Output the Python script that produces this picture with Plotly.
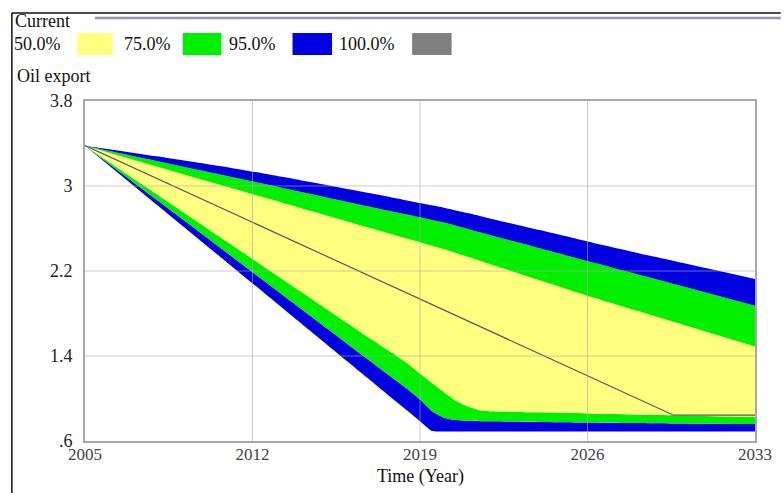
import plotly.graph_objects as go

# Oil export sensitivity run: confidence bands around the current run
years = [2005, 2008, 2011, 2014, 2017, 2018, 2018.5, 2019, 2019.5, 2020,
         2020.5, 2021, 2021.5, 2022, 2024, 2026, 2028, 2030, 2033]

hi95 = [3.38, 3.28, 3.175, 3.055, 2.93, 2.885, 2.862, 2.84, 2.818, 2.796,
        2.77, 2.745, 2.718, 2.69, 2.585, 2.478, 2.375, 2.275, 2.125]
hi75 = [3.38, 3.236, 3.092, 2.947, 2.801, 2.753, 2.729, 2.705, 2.68, 2.656,
        2.626, 2.596, 2.565, 2.535, 2.414, 2.293, 2.173, 2.053, 1.872]
hi50 = [3.38, 3.184, 2.988, 2.794, 2.600, 2.535, 2.503, 2.47, 2.438, 2.406,
        2.37, 2.333, 2.297, 2.26, 2.114, 1.968, 1.83, 1.694, 1.489]
lo50 = [3.38, 2.923, 2.466, 2.009, 1.552, 1.405, 1.325, 1.235, 1.145, 1.06,
        0.98, 0.925, 0.89, 0.88, 0.87, 0.86, 0.85, 0.84, 0.825]
lo75 = [3.38, 2.87, 2.36, 1.85, 1.34, 1.17, 1.085, 0.99, 0.88, 0.82,
        0.797, 0.79, 0.787, 0.785, 0.78, 0.775, 0.77, 0.765, 0.76]
lo95 = [3.38, 2.824, 2.269, 1.713, 1.158, 0.972, 0.88, 0.787, 0.695, 0.69,
        0.69, 0.69, 0.69, 0.69, 0.69, 0.69, 0.69, 0.69, 0.69]

current_years = [2005, 2029.6, 2033]
current_values = [3.38, 0.843, 0.843]

legend_labels = ["50.0%", "75.0%", "95.0%", "100.0%"]
x_ticks = [2005, 2012, 2019, 2026, 2033]
y_ticks = [0.6, 1.4, 2.2, 3.0, 3.8]
y_tick_text = [".6", "1.4", "2.2", "3", "3.8"]

YELLOW = "#FFFF80"
GREEN = "#00F000"
BLUE = "#0000E0"
GRAY = "#808080"
FONT = "Liberation Serif"

W, H = 784, 493
L, R, T, B = 85, 763, 101, 441


def px(x):
    return (x - L) / (R - L)


def py(y):
    return (B - y) / (B - T)


fig = go.Figure()

bounds = [
    (lo95, None, None),
    (lo75, "tonexty", BLUE),
    (lo50, "tonexty", GREEN),
    (hi50, "tonexty", YELLOW),
    (hi75, "tonexty", GREEN),
    (hi95, "tonexty", BLUE),
]
for vals, fill, color in bounds:
    fig.add_trace(go.Scatter(
        x=years, y=vals, mode="lines",
        line=dict(width=0, color=color or BLUE, shape="spline", smoothing=0.4),
        fill=fill, fillcolor=color,
        hoverinfo="skip",
    ))

fig.add_trace(go.Scatter(
    x=current_years, y=current_values, mode="lines",
    line=dict(color="#55556a", width=1.2),
))

shapes = []
# grid lines drawn over the bands
for xv in x_ticks[1:-1]:
    shapes.append(dict(type="line", xref="x", yref="paper", x0=xv, x1=xv,
                       y0=0, y1=1, line=dict(color="rgba(170,170,170,0.6)", width=1),
                       layer="above"))
for yv in y_ticks[1:-1]:
    shapes.append(dict(type="line", xref="paper", yref="y", x0=0, x1=1,
                       y0=yv, y1=yv, line=dict(color="rgba(170,170,170,0.6)", width=1),
                       layer="above"))

# outer frame of the legend block
shapes.append(dict(type="line", xref="paper", yref="paper",
                   x0=px(11), x1=px(W + 5), y0=py(13), y1=py(13),
                   line=dict(color="#111111", width=1.5)))
shapes.append(dict(type="line", xref="paper", yref="paper",
                   x0=px(11), x1=px(11), y0=py(13), y1=py(H + 5),
                   line=dict(color="#111111", width=1.5)))
# current run sample line
shapes.append(dict(type="line", xref="paper", yref="paper",
                   x0=px(95), x1=px(W + 5), y0=py(18), y1=py(18),
                   line=dict(color="#9494aa", width=2.5)))

# legend swatches
swatches = [(77, 113, YELLOW), (184, 223, GREEN), (295, 335, BLUE), (416, 456, GRAY)]
for x0, x1, col in swatches:
    shapes.append(dict(type="rect", xref="paper", yref="paper",
                       x0=px(x0), x1=px(x1), y0=py(55), y1=py(33),
                       fillcolor=col, line=dict(width=0)))

annotations = []


def label(text, x, y, anchor="left", size=18, color="#111111"):
    annotations.append(dict(text=text, xref="paper", yref="paper",
                            x=px(x), y=py(y), xanchor=anchor, yanchor="middle",
                            showarrow=False,
                            font=dict(family=FONT, size=size, color=color)))


label("Current", 12, 21)
for text, x in zip(legend_labels, [11, 122, 229, 340]):
    label(text, x, 44)
label("Oil export", 14, 76)
label("Time (Year)", 425, 476, anchor="center")

fig.update_layout(
    width=W, height=H,
    margin=dict(l=L, r=W - R, t=T, b=H - B),
    paper_bgcolor="white", plot_bgcolor="white",
    showlegend=False,
    shapes=shapes, annotations=annotations,
    xaxis=dict(range=[2005, 2033], tickvals=x_ticks, showgrid=False,
               zeroline=False, showline=True, mirror=True,
               linecolor="#a8a8a8", linewidth=2, ticks="",
               ticklabelstandoff=-3,
               tickfont=dict(family=FONT, size=17, color="#444444")),
    yaxis=dict(range=[0.6, 3.8], tickvals=y_ticks, ticktext=y_tick_text,
               showgrid=False, zeroline=False, showline=True, mirror=True,
               linecolor="#a8a8a8", linewidth=2, ticks="",
               ticklabelstandoff=7,
               tickfont=dict(family=FONT, size=18, color="#222222")),
)

fig.write_html("out.html")
